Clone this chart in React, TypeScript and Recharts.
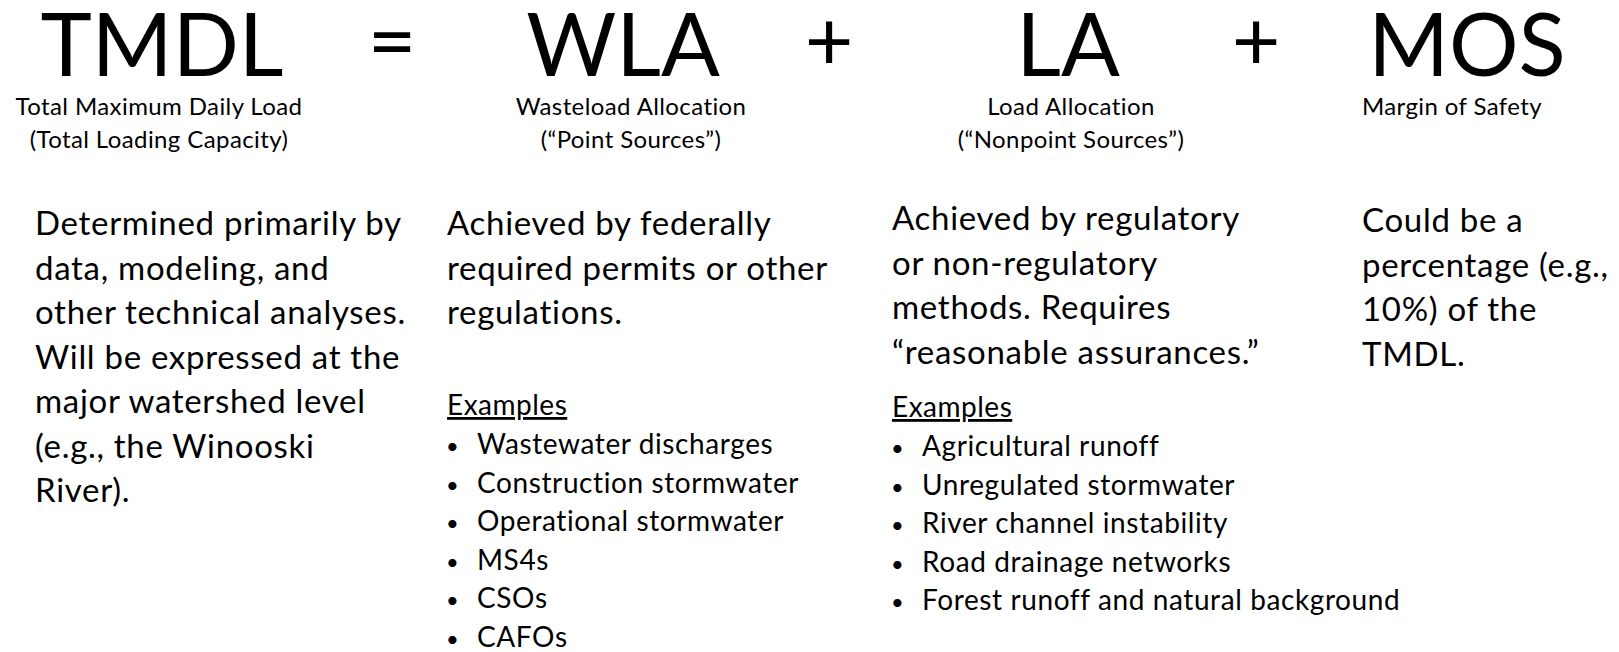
import React from 'react';
import { Surface, Text } from 'recharts';

const W = 1619;
const H = 652;
const FONT = 'Lato, "Open Sans", sans-serif';

// equation terms
const terms = ['TMDL', 'WLA', 'LA', 'MOS'];
const operators = ['=', '+', '+'];
const termNames = [
  ['Total Maximum Daily Load', '(Total Loading Capacity)'],
  ['Wasteload Allocation', '(\u201cPoint Sources\u201d)'],
  ['Load Allocation', '(\u201cNonpoint Sources\u201d)'],
  ['Margin of Safety'],
];

// body text per column
const descriptions = [
  [
    'Determined primarily by',
    'data, modeling, and',
    'other technical analyses.',
    'Will be expressed at the',
    'major watershed level',
    '(e.g., the Winooski',
    'River).',
  ],
  ['Achieved by federally', 'required permits or other', 'regulations.'],
  ['Achieved by regulatory', 'or non-regulatory', 'methods. Requires', '\u201creasonable assurances.\u201d'],
  ['Could be a', 'percentage (e.g.,', '10%) of the', 'TMDL.'],
];

const exampleHeading = 'Examples';
const wlaExamples = [
  'Wastewater discharges',
  'Construction stormwater',
  'Operational stormwater',
  'MS4s',
  'CSOs',
  'CAFOs',
];
const laExamples = [
  'Agricultural runoff',
  'Unregulated stormwater',
  'River channel instability',
  'Road drainage networks',
  'Forest runoff and natural background',
];

// layout
const termX = [162, 623, 1068, 1467];
const opX = [392, 829, 1256];
const nameX = [159, 631, 1071, 1452];
const bodyX = [35, 447, 892, 1362];
const bodyY = [235, 235, 230, 232];
const bodyStep = 44.5;

function Line({ x, y, size, anchor = 'start', spacing = 0, children, underline = false }: any) {
  return (
    <Text
      x={x}
      y={y}
      textAnchor={anchor}
      verticalAnchor="end"
      fontSize={size}
      fontFamily={FONT}
      fill="#000"
      style={{ letterSpacing: spacing, textDecoration: underline ? 'underline' : 'none' }}
    >
      {children}
    </Text>
  );
}

function ExampleList({ x, headY, items }: { x: number; headY: number; items: string[] }) {
  return (
    <g>
      <Line x={x} y={headY} size={28} spacing={0.5} underline>
        {exampleHeading}
      </Line>
      {items.map((item, i) => (
        <g key={item}>
          <Line x={x - 1} y={headY + 39 + i * 38.6} size={22}>
            {'\u2022'}
          </Line>
          <Line x={x + 30} y={headY + 39 + i * 38.6} size={28} spacing={0.6}>
            {item}
          </Line>
        </g>
      ))}
    </g>
  );
}

export default function App() {
  return (
    <div style={{ position: 'absolute', left: 0, top: 0, width: W, height: H, background: '#fff' }}>
      <Surface width={W} height={H}>
        {terms.map((t, i) => (
          <Line key={t} x={termX[i]} y={76} size={87} anchor="middle">
            {t}
          </Line>
        ))}
        {operators.map((op, i) => (
          <Line key={i} x={opX[i]} y={70} size={84} anchor="middle">
            {op}
          </Line>
        ))}
        {termNames.map((lines, i) =>
          lines.map((l, j) => (
            <Line key={`${i}-${j}`} x={nameX[i]} y={115 + j * 33} size={24} spacing={0.4} anchor="middle">
              {l}
            </Line>
          ))
        )}
        {descriptions.map((lines, i) =>
          lines.map((l, j) => (
            <Line key={`d${i}-${j}`} x={bodyX[i]} y={bodyY[i] + j * bodyStep} size={33} spacing={0.7}>
              {l}
            </Line>
          ))
        )}
        <ExampleList x={bodyX[1]} headY={415} items={wlaExamples} />
        <ExampleList x={bodyX[2]} headY={417} items={laExamples} />
      </Surface>
    </div>
  );
}
